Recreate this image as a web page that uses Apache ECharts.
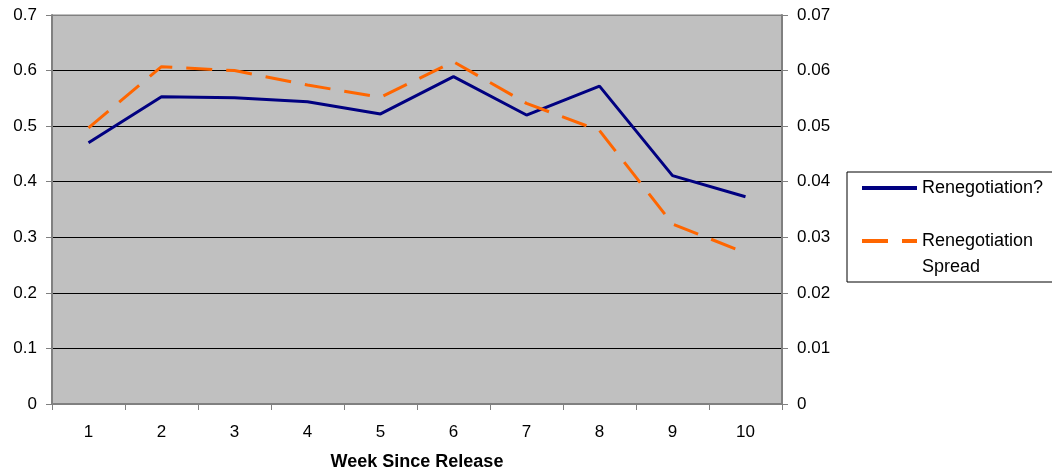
<!DOCTYPE html>
<html>
<head>
<meta charset="utf-8">
<script src="https://cdn.jsdelivr.net/npm/echarts@6/dist/echarts.min.js"></script>
<style>
  html, body { margin: 0; padding: 0; background: #fff; }
  #chart { width: 1052px; height: 475px; }
</style>
</head>
<body>
<div id="chart"></div>
<script>
// data
const weeks = ['1', '2', '3', '4', '5', '6', '7', '8', '9', '10'];
const renegotiation = [0.470, 0.553, 0.551, 0.544, 0.522, 0.589, 0.520, 0.572, 0.411, 0.373];
const renegotiationSpread = [0.0497, 0.0607, 0.0600, 0.0574, 0.0552, 0.0616, 0.0541, 0.0492, 0.0324, 0.0272];

const FONT = '"Liberation Sans", Arial, sans-serif';

const chart = echarts.init(document.getElementById('chart'));

const options = {
    animation: false,
    textStyle: { fontFamily: FONT, color: '#000' },
    grid: {
        left: 52, right: 270, top: 15, bottom: 71,
        outerBoundsMode: 'none',
        show: true,
        backgroundColor: '#c0c0c0',
        borderColor: '#808080',
        borderWidth: 1
    },
    legend: {
        orient: 'vertical',
        left: 847,
        top: 172,
        padding: [3, 30, 2, 13],
        itemGap: 1,
        itemWidth: 55,
        itemHeight: 14,
        borderColor: '#000',
        borderWidth: 1,
        backgroundColor: '#fff',
        itemStyle: { opacity: 0 },
        lineStyle: { width: 4 },
        textStyle: { fontFamily: FONT, fontSize: 18, color: '#000', lineHeight: 26 },
        data: ['Renegotiation?', 'Renegotiation Spread'],
        // blank first line keeps the icon level with "Renegotiation"
        formatter: (name) => name === 'Renegotiation Spread' ? '\nRenegotiation\nSpread' : name
    },
    xAxis: {
        type: 'category',
        data: weeks,
        boundaryGap: true,
        name: 'Week Since Release',
        nameLocation: 'middle',
        nameGap: 49,
        nameTextStyle: { fontFamily: FONT, fontSize: 18, fontWeight: 'bold', color: '#000' },
        axisLine: { lineStyle: { color: '#808080', width: 2 } },
        axisTick: { show: true, length: 6, lineStyle: { color: '#808080' } },
        axisLabel: { fontFamily: FONT, fontSize: 17, color: '#000', margin: 20 }
    },
    yAxis: [
        {
            type: 'value',
            min: 0, max: 0.7, interval: 0.1,
            axisLine: { show: true, lineStyle: { color: '#808080', width: 2 } },
            axisTick: { show: true, length: 6, lineStyle: { color: '#808080' } },
            axisLabel: { fontFamily: FONT, fontSize: 17, color: '#000', margin: 15 },
            splitLine: {
                show: true,
                lineStyle: { color: ['#000', '#000', '#000', '#000', '#000', '#000', '#000', '#808080'], width: 1 }
            }
        },
        {
            type: 'value',
            min: 0, max: 0.07, interval: 0.01,
            position: 'right',
            axisLine: { show: true, lineStyle: { color: '#808080', width: 2 } },
            axisTick: { show: true, length: 6, lineStyle: { color: '#808080' } },
            axisLabel: { fontFamily: FONT, fontSize: 17, color: '#000', margin: 15 },
            splitLine: { show: false }
        }
    ],
    series: [
        {
            name: 'Renegotiation?',
            type: 'line',
            yAxisIndex: 0,
            data: renegotiation,
            symbol: 'none',
            color: '#000080',
            lineStyle: { color: '#000080', width: 3 }
        },
        {
            name: 'Renegotiation Spread',
            type: 'line',
            yAxisIndex: 1,
            data: renegotiationSpread,
            symbol: 'none',
            color: '#ff6600',
            lineStyle: { color: '#ff6600', width: 3, type: [26, 14] }
        }
    ]
};

chart.setOption(options);
</script>
</body>
</html>
